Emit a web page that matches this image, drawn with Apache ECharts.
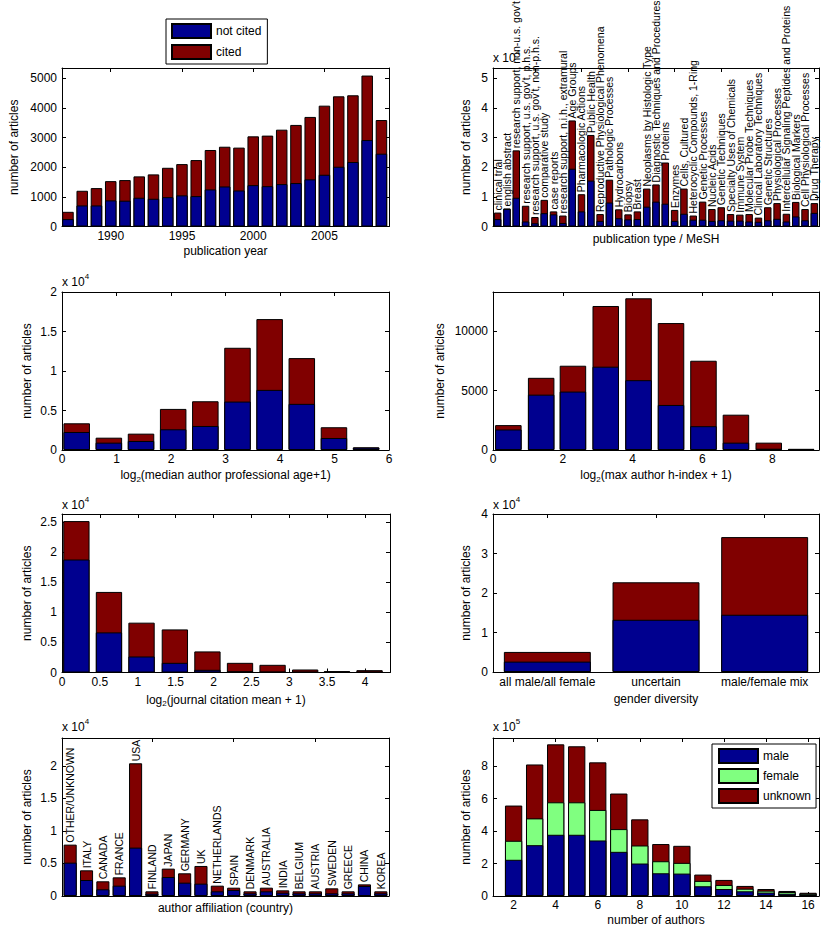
<!DOCTYPE html>
<html><head><meta charset="utf-8">
<script src="https://cdn.jsdelivr.net/npm/echarts@6/dist/echarts.min.js"></script>
<style>html,body{margin:0;padding:0;background:#fff}#c{width:821px;height:930px}</style>
</head><body><div id="c"></div>
<script>
// ---------- DATA ----------
const years = [1987,1988,1989,1990,1991,1992,1993,1994,1995,1996,1997,1998,1999,2000,2001,2002,2003,2004,2005,2006,2007,2008,2009];
const yearNotCited = [250,710,710,880,870,970,935,990,1050,1025,1250,1350,1215,1395,1360,1430,1465,1590,1745,2015,2175,2915,2455];
const yearCited = [245,495,585,650,695,720,822,990,1055,1215,1330,1340,1445,1645,1705,1835,1960,2105,2330,2375,2250,2175,1135];

const meshCats = ['clinical trial','english abstract',"research support, non-u.s. gov't","research support, u.s. gov't, p.h.s.","research support, u.s. gov't, non-p.h.s.",'comparative study','case reports','research support, n.i.h., extramural','Age Groups','Pharmacologic Actions','Public Health','Reproductive Physiological Phenomena','Pathologic Processes','Hydrocarbons','Biopsy','Breast','Neoplasms by Histologic Type','Diagnostic Techniques and Procedures','Proteins','Enzymes','Cells, Cultured','Heterocyclic Compounds, 1-Ring','Genetic Processes','Nucleic Acids','Genetic Techniques','Specialty Uses of Chemicals','Immune System','Molecular Probe Techniques','Clinical Laboratory Techniques','Genetic Structures','Physiological Processes','Intercellular Signaling Peptides and Proteins','Biological Markers','Cell Physiological Processes','Drug Therapy'];
const meshNotCited = [2500,5900,9700,1700,1100,4500,4100,1200,19500,5100,15500,1900,8100,2800,2400,2500,6700,8400,7700,1900,4300,2300,2300,1900,2100,2000,2000,1700,1600,2100,2600,1700,3400,2100,4600];
const meshCited = [2200,200,16000,5300,2100,4500,1000,2500,16300,5800,15400,2300,7700,3000,1700,2600,6100,5800,13900,3700,8500,1400,6100,4000,4400,2200,2000,2500,1400,4400,5300,2600,4900,3800,3300];

const ageX = [0.27,0.86,1.45,2.04,2.63,3.22,3.81,4.40,4.99,5.58];
const ageNotCited = [2280,930,1140,2620,3040,6130,7610,5840,1520,300];
const ageCited = [1100,630,930,2580,3130,6810,8960,5790,1360,40];

const hX = [0.44,1.38,2.29,3.23,4.17,5.10,6.03,6.96,7.90,8.83];
const hNotCited = [1730,4670,4930,7030,5890,3800,2010,620,110,70];
const hCited = [370,1420,2180,5120,6910,6910,5520,2360,510,30];

const jX = [0.19,0.62,1.05,1.49,1.92,2.35,2.78,3.21,3.63,4.06];
const jNotCited = [18820,6680,2670,1610,450,170,60,30,100,50];
const jCited = [6400,6740,5630,5570,3060,1440,1220,470,120,340];

const genderCats = ['all male/all female','uncertain','male/female mix'];
const genderNotCited = [2630,13220,14490];
const genderCited = [2450,9490,19660];

const countries = ['OTHER/UNKNOWN','ITALY','CANADA','FRANCE','USA','FINLAND','JAPAN','GERMANY','UK','NETHERLANDS','SPAIN','DENMARK','AUSTRALIA','INDIA','BELGIUM','AUSTRIA','SWEDEN','GREECE','CHINA','KOREA'];
const countryNotCited = [5130,2460,1030,1590,7440,360,2920,2050,1900,720,920,410,720,510,410,410,410,410,1540,410];
const countryCited = [2770,1490,1230,1280,12970,360,1290,1440,2720,870,360,310,560,360,310,310,770,310,250,310];

const nAuthors = [2,3,4,5,6,7,8,9,10,11,12,13,14,15,16];
const authMale = [223000,313000,377000,377000,342000,272000,200000,140000,138000,60000,43000,29000,21000,14000,10000];
const authFemale = [117000,165000,200000,200000,188000,140000,111000,74000,66000,33000,25000,16000,12000,11000,5000];
const authUnknown = [217000,332000,357000,345000,293000,219000,161000,106000,105000,39000,31000,17000,10000,6000,5000];

// ---------- STYLE ----------
const FONT = "'Liberation Sans', Arial, Helvetica, sans-serif";
const BLUE = '#00008f', RED = '#800000', GREEN = '#80ff80';
const AX_LINE = {show:true, onZero:false, lineStyle:{color:'#000', width:1}};
function tk(extra){ return Object.assign({show:true, inside:true, length:4, lineStyle:{color:'#000', width:1}}, extra||{}); }
const LBL = {color:'#000', fontSize:12, fontFamily:FONT};
const RICH = {
  m:{fontSize:12, lineHeight:16, fontFamily:FONT, color:'#000'},
  s:{fontSize:8, lineHeight:8, verticalAlign:'bottom', fontFamily:FONT, color:'#000'}
};
const div = k => v => String(+(v / k).toFixed(3));
const raw = v => String(v);
const range = (a, b, s) => { const r = []; for (let v = a; v <= b + 1e-9; v += s) r.push(+v.toFixed(3)); return r; };

const option = {
  animation:false, backgroundColor:'#fff',
  textStyle:{fontFamily:FONT, color:'#000'},
  grid:[], xAxis:[], yAxis:[], series:[],
  legend:[
    {data:['not cited','cited'], left:166, top:19, orient:'vertical', icon:'rect', itemWidth:39, itemHeight:14, itemGap:5,
     padding:[4,6,4,5], borderColor:'#000', borderWidth:1, backgroundColor:'#fff', selectedMode:false,
     textStyle:{fontSize:12, color:'#000', fontFamily:FONT}},
    {data:['male','female','unknown'], left:712, top:744, orient:'vertical', icon:'rect', itemWidth:39, itemHeight:14, itemGap:4,
     padding:[4,5,4,6], borderColor:'#000', borderWidth:1, backgroundColor:'#fff', selectedMode:false, z:10,
     textStyle:{fontSize:12, color:'#000', fontFamily:FONT}}
  ],
  graphic:[]
};

function expo(x, y, p) {
  option.graphic.push({type:'text', x:x, y:y, z:5, style:{
    text:'{m|x 10}{s|' + p + '}', align:'left', verticalAlign:'middle', fill:'#000',
    rich:{m:{fontSize:12, lineHeight:16, verticalAlign:'bottom', fontFamily:FONT, fill:'#000'},
          s:{fontSize:8, lineHeight:8, verticalAlign:'top', fontFamily:FONT, fill:'#000'}}
  }});
}

function panel(o) {
  const g = option.grid.length;
  option.grid.push({left:o.left, top:o.top, width:o.width, height:o.height});
  const nameX = {name:o.xName, nameLocation:'middle', nameGap:o.xGap, nameTextStyle:{fontSize:12, color:'#000', fontFamily:FONT, rich:RICH}};
  if (o.cats) {
    option.xAxis.push(Object.assign({type:'category', gridIndex:g, position:'bottom', data:o.cats, boundaryGap:true,
      axisLine:AX_LINE, axisTick:tk({alignWithLabel:true, interval:o.tickInt}),
      axisLabel: o.showCats ? Object.assign({}, LBL, {interval:0, margin:4}) : {show:false},
      splitLine:{show:false}}, nameX));
    option.xAxis.push({type:'category', gridIndex:g, position:'top', data:o.cats, boundaryGap:true,
      axisLine:AX_LINE, axisTick:tk({alignWithLabel:true, interval:o.tickInt}), axisLabel:{show:false}, splitLine:{show:false}});
  } else {
    option.xAxis.push(Object.assign({type:'value', gridIndex:g, position:'bottom', min:o.xmin, max:o.xmax,
      axisLine:AX_LINE, axisTick:tk({customValues:o.xticks}),
      axisLabel:Object.assign({}, LBL, {margin:3, customValues:o.xticks, formatter:raw}),
      splitLine:{show:false}}, nameX));
    option.xAxis.push({type:'value', gridIndex:g, position:'top', min:o.xmin, max:o.xmax,
      axisLine:AX_LINE, axisTick:tk({customValues:o.xticks}), axisLabel:{show:false}, splitLine:{show:false}});
  }
  option.yAxis.push({type:'value', gridIndex:g, position:'left', min:0, max:o.ymax,
    axisLine:AX_LINE, axisTick:tk({customValues:o.yticks}),
    axisLabel:Object.assign({}, LBL, {margin:5, customValues:o.yticks, formatter:o.yfmt}),
    splitLine:{show:false},
    name:'number of articles', nameLocation:'middle', nameRotate:90, nameGap:o.yGap,
    nameTextStyle:{fontSize:12, color:'#000', fontFamily:FONT, lineHeight:14}});
  option.yAxis.push({type:'value', gridIndex:g, position:'right', min:0, max:o.ymax,
    axisLine:AX_LINE, axisTick:tk({customValues:o.yticks}), axisLabel:{show:false}, splitLine:{show:false}});

  const xi = 2 * g, yi = 2 * g;
  // layers drawn back to front; each layer's top = cumulative sum of its own and lower segments
  const layers = o.layers; // bottom -> top: {name, values, color}
  const cum = [];
  layers.forEach((L, k) => {
    cum.push(L.values.map((v, i) => v + (k ? cum[k-1][i] : 0)));
  });
  for (let k = layers.length - 1; k >= 0; k--) {
    const tops = cum[k];
    const data = o.cats ? tops.slice() : tops.map((v, i) => [o.xs[i], v]);
    const s = {type:'bar', name:layers[k].name, xAxisIndex:xi, yAxisIndex:yi, data:data,
      barWidth:o.barWidth, barGap:'-100%', z:2 + (layers.length - k),
      itemStyle:{color:layers[k].color, borderColor:'#000', borderWidth:1}};
    if (o.label && k === layers.length - 1) {
      s.label = {show:true, position:'top', rotate:90, align:'left', verticalAlign:'middle', distance:2,
        formatter:'{b}', fontSize:10.5, color:'#000', fontFamily:FONT};
    }
    option.series.push(s);
  }
}

const cn = (nc, c) => [{name:'not cited', values:nc, color:BLUE}, {name:'cited', values:c, color:RED}];

panel({left:62, top:68, width:327, height:158.5, xmin:1986.58, xmax:2009.53, xticks:[1990,1995,2000,2005], xs:years,
  layers:cn(yearNotCited, yearCited), barWidth:11.5, ymax:5345, yticks:range(0,5000,1000), yfmt:raw,
  xName:'{m|publication year}', xGap:16.5, yGap:41});
panel({left:493, top:68, width:326, height:158.5, cats:meshCats, tickInt:(i)=>i%5===4,
  layers:cn(meshNotCited, meshCited), barWidth:'80%', ymax:53500, yticks:range(0,50000,10000), yfmt:div(1e4), label:true,
  xName:'{m|publication type / MeSH}', xGap:4.5, yGap:20});
panel({left:62, top:292, width:327, height:158, xmin:0, xmax:6, xticks:range(0,6,1), xs:ageX,
  layers:cn(ageNotCited, ageCited), barWidth:26.5, ymax:20000, yticks:range(0,20000,5000), yfmt:div(1e4),
  xName:'{m|log}{s|2}{m|(median author professional age+1)}', xGap:17, yGap:28.5});
panel({left:493, top:292, width:326, height:158, xmin:0, xmax:9.34, xticks:[0,2,4,6,8], xs:hX,
  layers:cn(hNotCited, hCited), barWidth:26.5, ymax:13330, yticks:[0,5000,10000], yfmt:raw,
  xName:'{m|log}{s|2}{m|(max author h-index + 1)}', xGap:17, yGap:46});
panel({left:62, top:514, width:328, height:158.5, xmin:0, xmax:4.33, xticks:range(0,4,0.5), xs:jX,
  layers:cn(jNotCited, jCited), barWidth:26.3, ymax:26400, yticks:range(0,25000,5000), yfmt:div(1e4),
  xName:'{m|log}{s|2}{m|(journal citation mean + 1)}', xGap:19, yGap:28.5});
panel({left:493, top:514, width:326, height:158, cats:genderCats, showCats:true, tickInt:0,
  layers:cn(genderNotCited, genderCited), barWidth:'80%', ymax:40000, yticks:range(0,40000,10000), yfmt:div(1e4),
  xName:'{m|gender diversity}', xGap:19, yGap:20});
panel({left:62, top:738, width:327, height:158, cats:countries, tickInt:(i)=>i%5===0 && i>0,
  layers:cn(countryNotCited, countryCited), barWidth:'80%', ymax:24300, yticks:range(0,20000,5000), yfmt:div(1e4), label:true,
  xName:'{m|author affiliation (country)}', xGap:4, yGap:28.5});
panel({left:493, top:738, width:326, height:158, xmin:1.02, xmax:16.52, xticks:range(2,16,2), xs:nAuthors,
  layers:[{name:'male', values:authMale, color:BLUE},{name:'female', values:authFemale, color:GREEN},{name:'unknown', values:authUnknown, color:RED}],
  barWidth:17.3, ymax:973000, yticks:range(0,800000,200000), yfmt:div(1e5),
  xName:'{m|number of authors}', xGap:16, yGap:20});

expo(493, 56, '4');
expo(62, 280, '4');
expo(62, 503, '4');
expo(493, 503, '4');
expo(62, 725, '4');
expo(493, 725, '5');

const chart = echarts.init(document.getElementById('c'), null, {renderer:'svg'});
chart.setOption(option);
</script>
</body></html>
